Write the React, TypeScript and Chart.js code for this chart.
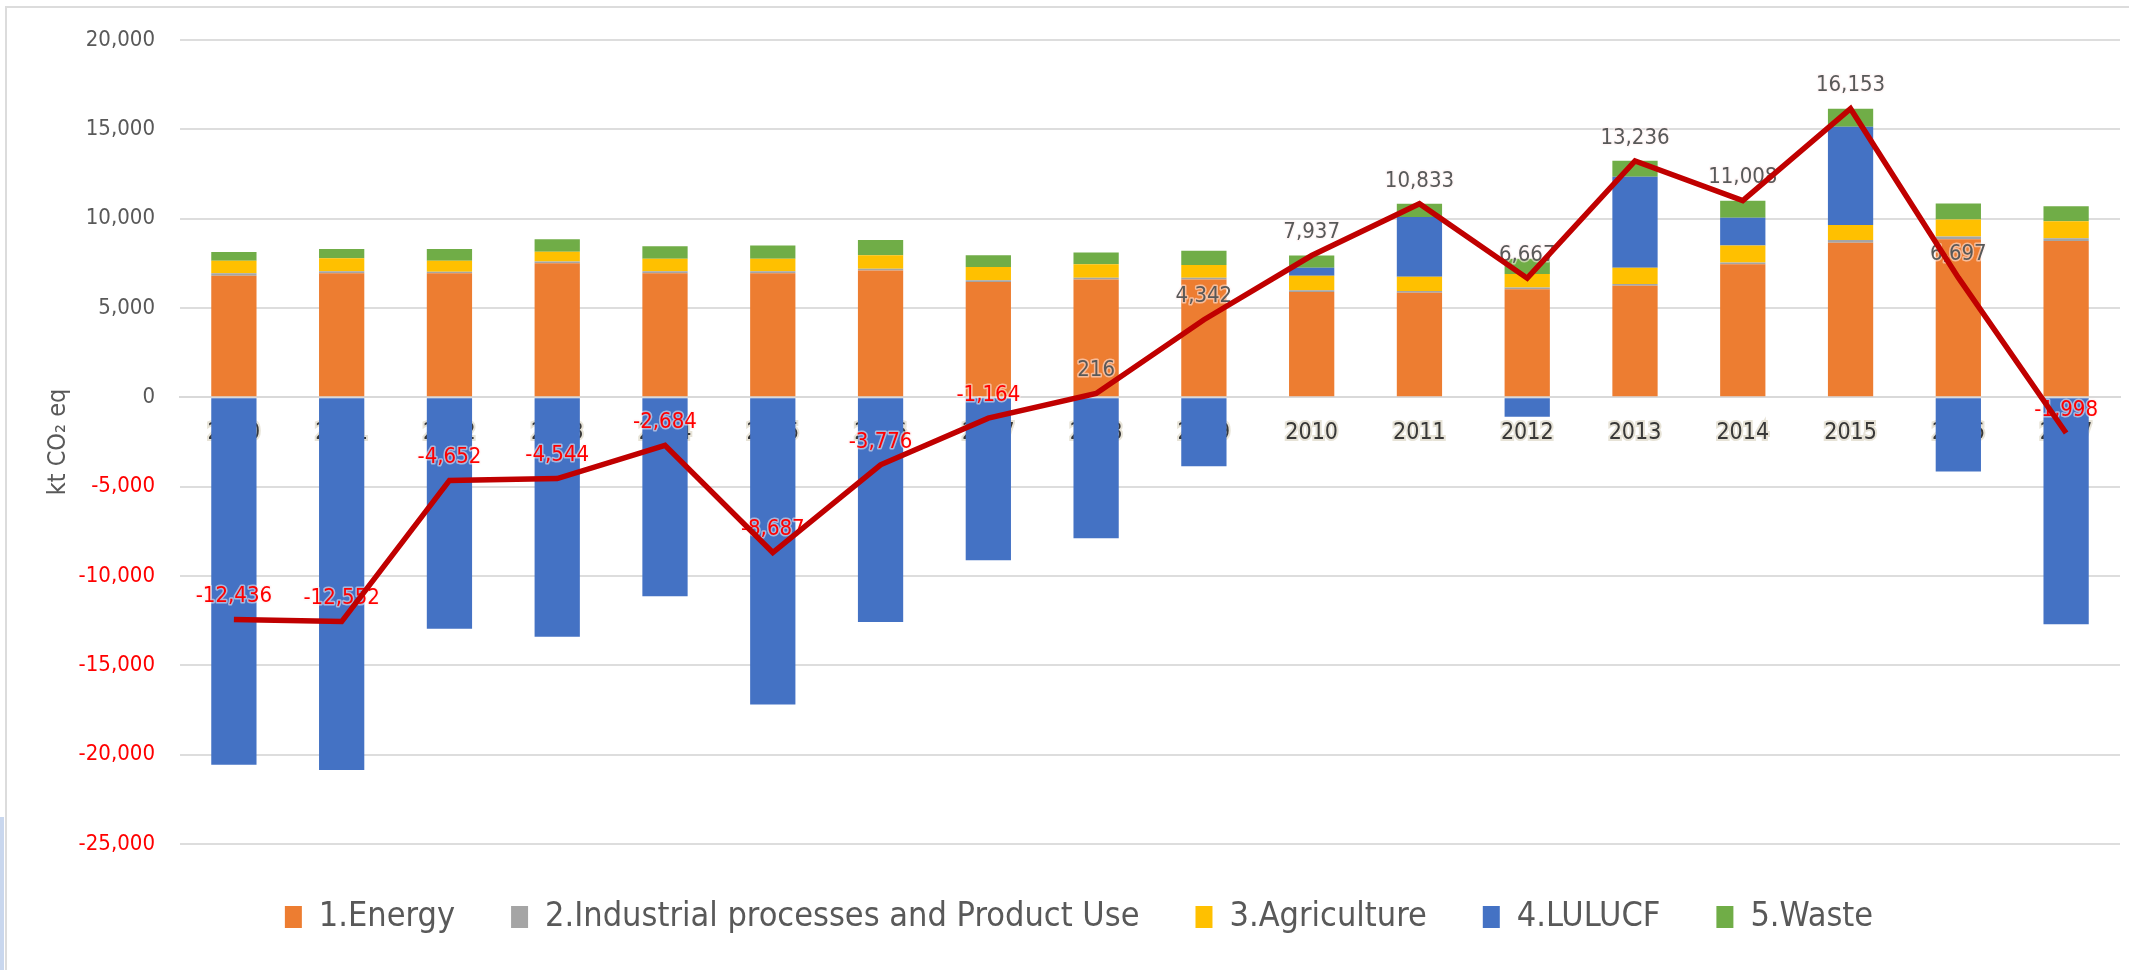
import React, { useEffect, useRef } from 'react';
import { Chart, registerables } from 'chart.js';

Chart.register(...registerables);

const years = ['2000', '2001', '2002', '2003', '2004', '2005', '2006', '2007', '2008', '2009', '2010', '2011', '2012', '2013', '2014', '2015', '2016', '2017'];

const energy = [6800, 6950, 6950, 7500, 6950, 6950, 7100, 6450, 6600, 6600, 5900, 5850, 6050, 6250, 7450, 8650, 8850, 8750];
const ippu = [150, 100, 80, 100, 100, 100, 100, 100, 100, 100, 100, 100, 100, 100, 100, 150, 150, 150];
const agriculture = [700, 730, 620, 550, 700, 700, 750, 750, 750, 700, 800, 800, 750, 900, 950, 850, 950, 950];
const lulucf = [-20566, -20852, -12952, -13394, -11134, -17187, -12576, -9114, -7884, -3858, 450, 3350, -1083, 5100, 1550, 5500, -4153, -12698];
const waste = [480, 520, 650, 700, 700, 750, 850, 650, 650, 800, 687, 733, 850, 886, 958, 1003, 900, 850];
const netTotal = [-12436, -12552, -4652, -4544, -2684, -8687, -3776, -1164, 216, 4342, 7937, 10833, 6667, 13236, 11008, 16153, 6697, -1998];

const yTicks = [-25000, -20000, -15000, -10000, -5000, 0, 5000, 10000, 15000, 20000];

const FONT = "'Liberation Sans Narrow', 'Arial Narrow', 'DejaVu Sans Condensed', sans-serif";
const fmt = (v: number) => v.toLocaleString('en-US');

const lineLabels = {
  id: 'lineLabels',
  beforeDatasetDraw(chart: any, args: any) {
    if (args.index !== 5) return;
    const meta = chart.getDatasetMeta(5);
    const ctx = chart.ctx;
    ctx.save();
    ctx.font = `22px ${FONT}`;
    ctx.textAlign = 'center';
    ctx.textBaseline = 'middle';
    ctx.lineJoin = 'round';
    ctx.lineWidth = 3;
    ctx.strokeStyle = 'rgba(255,240,240,0.55)';
    meta.data.forEach((pt: any, i: number) => {
      const v = netTotal[i];
      ctx.strokeText(fmt(v), pt.x, pt.y - 23);
      ctx.fillStyle = v < 0 ? '#FF0000' : '#595959';
      ctx.fillText(fmt(v), pt.x, pt.y - 23);
    });
    ctx.restore();
  },
};

export default function App() {
  const ref = useRef<HTMLCanvasElement | null>(null);

  useEffect(() => {
    if (!ref.current) return;
    const barBase = { stack: 'emis', order: 1, categoryPercentage: 1, barPercentage: 0.42, borderWidth: 0 };
    const chart = new Chart(ref.current, {
      type: 'bar',
      data: {
        labels: years,
        datasets: [
          { ...barBase, label: '1.Energy', data: energy, backgroundColor: '#ED7D31' },
          { ...barBase, label: '2.Industrial processes and Product Use', data: ippu, backgroundColor: '#A5A5A5' },
          { ...barBase, label: '3.Agriculture', data: agriculture, backgroundColor: '#FFC000' },
          { ...barBase, label: '4.LULUCF', data: lulucf, backgroundColor: '#4472C4' },
          { ...barBase, label: '5.Waste', data: waste, backgroundColor: '#70AD47' },
          {
            type: 'line',
            label: 'Net total',
            data: netTotal,
            borderColor: '#C00000',
            backgroundColor: '#C00000',
            borderWidth: 5.5,
            pointRadius: 0,
            tension: 0,
            fill: false,
            order: 0,
          } as any,
        ],
      },
      options: {
        animation: false,
        responsive: false,
        layout: { padding: { left: 38, right: 9, top: 40, bottom: 26 } },
        plugins: {
          legend: {
            position: 'bottom',
            labels: {
              filter: (item: any) => item.datasetIndex < 5,
              boxWidth: 17,
              boxHeight: 22,
              padding: 56,
              color: '#595959',
              font: { family: FONT, size: 34 },
            },
          },
          tooltip: { enabled: false },
        },
        scales: {
          x: {
            stacked: true,
            position: { y: 0 } as any,
            z: 1,
            grid: { display: false },
            border: { display: true, color: '#D9D9D9', width: 2 },
            ticks: {
              color: '#383838',
              textStrokeColor: 'rgba(225,220,205,0.8)',
              textStrokeWidth: 4,
              font: { family: FONT, size: 23 },
              padding: 14,
              maxRotation: 0,
              autoSkip: false,
            },
          },
          y: {
            stacked: true,
            min: yTicks[0],
            max: yTicks[yTicks.length - 1],
            afterBuildTicks: (scale: any) => {
              scale.ticks = yTicks.map((v) => ({ value: v }));
            },
            afterFit: (scale: any) => {
              scale.width = 142;
            },
            ticks: {
              padding: 25,
              color: (c: any) => (c.tick && c.tick.value < 0 ? '#FF0000' : '#595959'),
              font: { family: FONT, size: 22 },
              callback: (v: any) => fmt(Number(v)),
            },
            grid: { color: '#DDDDDD', lineWidth: 2, drawTicks: false },
            border: { display: false },
            title: {
              display: true,
              text: 'kt CO₂ eq',
              color: '#595959',
              font: { family: FONT, size: 25 },
              padding: { top: 5, bottom: 0 },
            },
          },
        },
      },
      plugins: [lineLabels],
    } as any);
    return () => chart.destroy();
  }, []);

  return (
    <div style={{ position: 'fixed', left: 0, top: 0, width: 2129, height: 970, background: '#FFFFFF', overflow: 'hidden' }}>
      <div style={{ position: 'absolute', left: 5, top: 6, width: 2124, height: 2, background: '#DCDCDC' }} />
      <div style={{ position: 'absolute', left: 5, top: 6, width: 2, height: 964, background: '#DCDCDC' }} />
      <div style={{ position: 'absolute', left: 0, top: 817, width: 4, height: 153, background: '#C9D7EE' }} />
      <canvas ref={ref} width={2129} height={970} style={{ position: 'absolute', left: 0, top: 0, width: 2129, height: 970 }} />
    </div>
  );
}
